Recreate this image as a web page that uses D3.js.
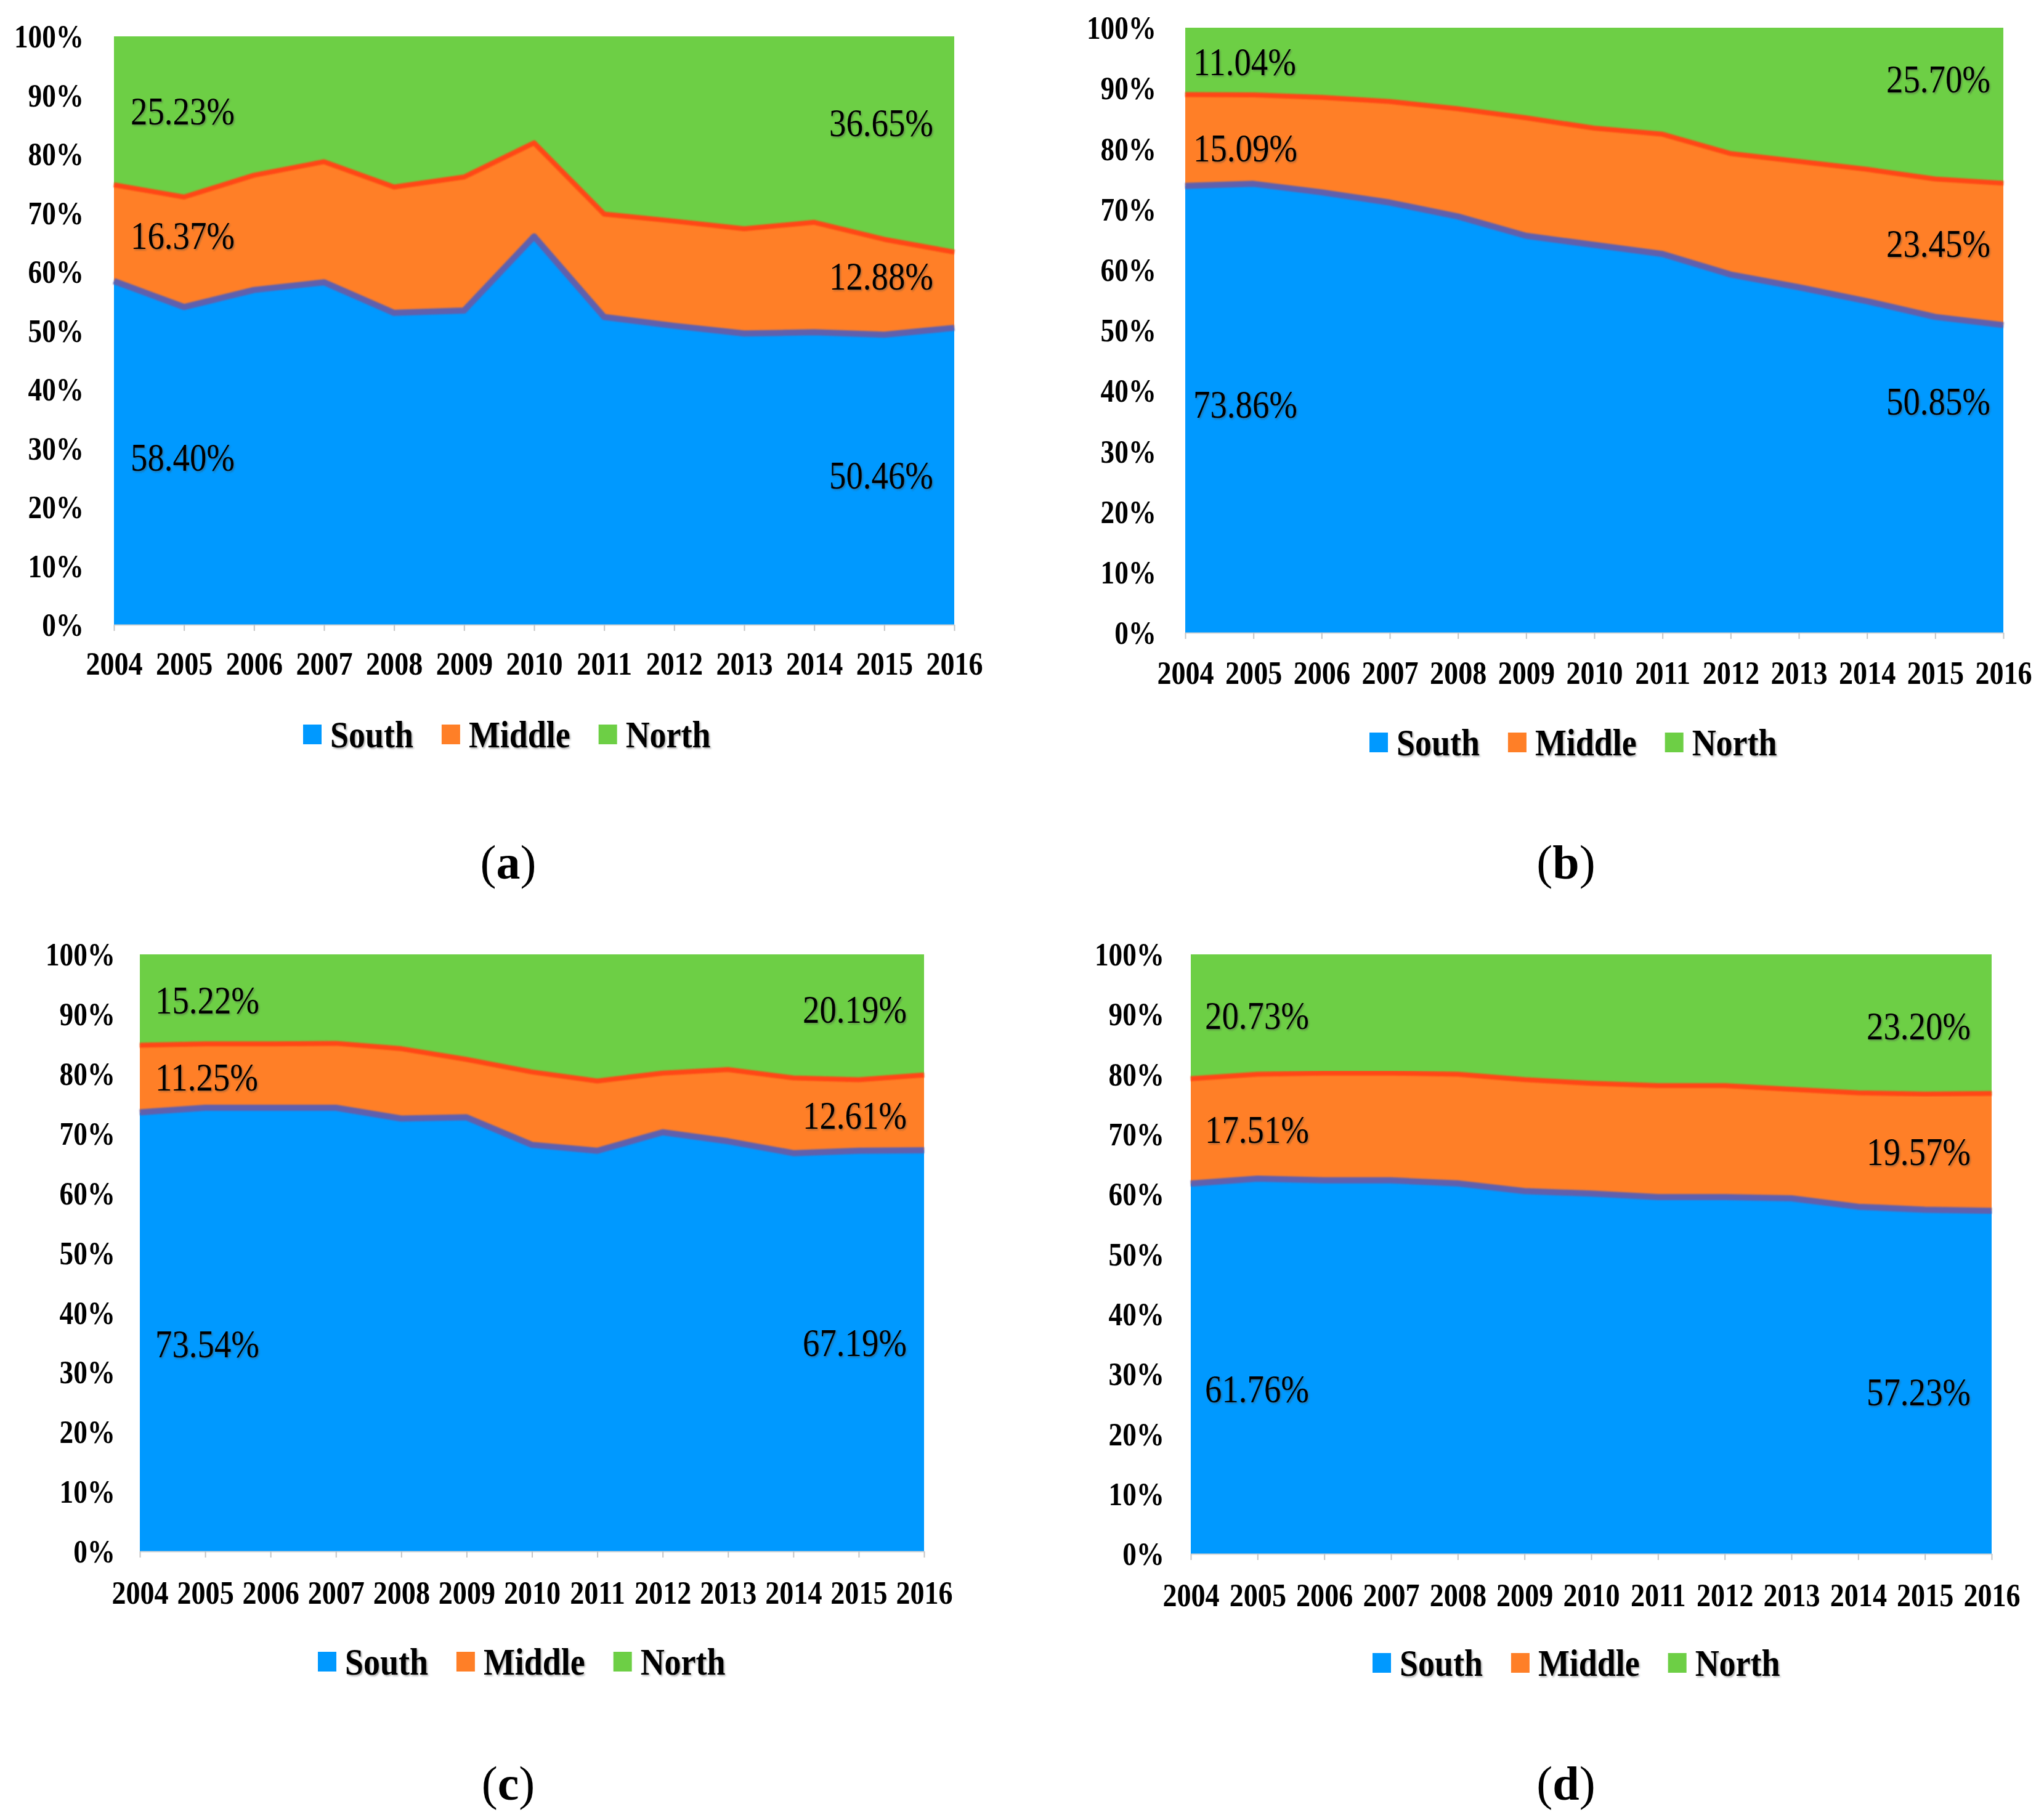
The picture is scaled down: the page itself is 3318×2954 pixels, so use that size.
<!DOCTYPE html>
<html>
<head>
<meta charset="utf-8">
<script src="https://cdn.jsdelivr.net/npm/d3@7"></script>
<style>
body{margin:0;background:#fff;}
svg{display:block;}
</style>
</head>
<body>
<svg id="mysvg" width="3318" height="2954"></svg>
<script>
var years = [2004, 2005, 2006, 2007, 2008, 2009, 2010, 2011, 2012, 2013, 2014, 2015, 2016];
var yTicks = [0, 10, 20, 30, 40, 50, 60, 70, 80, 90, 100];
var seriesNames = ["South", "Middle", "North"];

// (a)
var southA  = [58.40, 54.0, 56.9, 58.2, 53.0, 53.4, 66.0, 52.3, 50.8, 49.5, 49.7, 49.3, 50.46];
var middleA = [16.37, 18.7, 19.5, 20.5, 21.4, 22.7, 15.9, 17.5, 17.8, 17.8, 18.7, 16.2, 12.88];
var northA  = [25.23, 27.3, 23.6, 21.3, 25.6, 23.9, 18.1, 30.2, 31.4, 32.7, 31.6, 34.5, 36.65];
// (b)
var southB  = [73.86, 74.2, 72.8, 71.1, 68.8, 65.6, 64.1, 62.6, 59.2, 57.1, 54.8, 52.2, 50.85];
var middleB = [15.09, 14.7, 15.7, 16.7, 17.8, 19.5, 19.3, 19.8, 20.0, 20.8, 21.8, 22.8, 23.45];
var northB  = [11.04, 11.1, 11.5, 12.2, 13.4, 14.9, 16.6, 17.6, 20.8, 22.1, 23.4, 25.0, 25.70];
// (c)
var southC  = [73.54, 74.3, 74.3, 74.3, 72.5, 72.7, 68.1, 67.1, 70.2, 68.7, 66.7, 67.1, 67.19];
var middleC = [11.25, 10.7, 10.7, 10.8, 11.7, 9.7, 12.2, 11.7, 9.9, 12.0, 12.6, 11.9, 12.61];
var northC  = [15.22, 15.0, 15.0, 14.9, 15.8, 17.6, 19.7, 21.2, 19.9, 19.3, 20.7, 21.0, 20.19];
// (d)
var southD  = [61.76, 62.6, 62.3, 62.3, 61.8, 60.5, 60.1, 59.5, 59.5, 59.3, 57.9, 57.4, 57.23];
var middleD = [17.51, 17.4, 17.9, 17.9, 18.2, 18.6, 18.4, 18.6, 18.6, 18.2, 19.0, 19.3, 19.57];
var northD  = [20.73, 20.0, 19.8, 19.8, 20.0, 20.9, 21.5, 21.9, 21.9, 22.5, 23.1, 23.3, 23.20];

var colors = {South: "#0099ff", Middle: "#ff7f27", North: "#6dcf45"};
var edges = {South: "#5f60ae", Middle: "#ff4712"};
var serif = "'Liberation Serif','Times New Roman',serif";
var squeeze = "scale(0.87,1)";

// layout of the four panels (pixels) and where the end labels sit (in % of the y axis)
var panels = [
  {tag: "a", south: southA, middle: middleA, north: northA,
   left: 185, right: 1549, top: 59, bottom: 1014, yLabelX: 136, xLabelY: 81,
   legendX: 492, legendY: 1213, capX: 825, capY: 1426, padL: 27, padR: 34,
   posL: {North: 87.3, Middle: 66.2, South: 28.5}, posR: {North: 85.3, Middle: 59.3, South: 25.5}},
  {tag: "b", south: southB, middle: middleB, north: northB,
   left: 1924, right: 3252, top: 45, bottom: 1027, yLabelX: 1877, xLabelY: 83,
   legendX: 2223, legendY: 1226, capX: 2542, capY: 1426, padL: 13, padR: 21,
   posL: {North: 94.4, Middle: 80.1, South: 37.8}, posR: {North: 91.6, Middle: 64.4, South: 38.3}},
  {tag: "c", south: southC, middle: middleC, north: northC,
   left: 227, right: 1500, top: 1549, bottom: 2518, yLabelX: 187, xLabelY: 85,
   legendX: 516, legendY: 2718, capX: 825, capY: 2921, padL: 25, padR: 28,
   posL: {North: 92.4, Middle: 79.5, South: 34.8}, posR: {North: 90.8, Middle: 73.1, South: 35.0}},
  {tag: "d", south: southD, middle: middleD, north: northD,
   left: 1933, right: 3233, top: 1549, bottom: 2522, yLabelX: 1890, xLabelY: 85,
   legendX: 2228, legendY: 2720, capX: 2542, capY: 2921, padL: 23, padR: 34,
   posL: {North: 89.8, Middle: 70.8, South: 27.6}, posR: {North: 88.1, Middle: 67.1, South: 27.0}}
];

var svg = d3.select("#mysvg");
svg.append("rect").attr("width", 3318).attr("height", 2954).attr("fill", "#fff");

var defs = svg.append("defs");
defs.append("filter").attr("id", "shadow").attr("x", "-10%").attr("y", "-10%").attr("width", "130%").attr("height", "130%")
  .append("feDropShadow").attr("dx", 2).attr("dy", 2).attr("stdDeviation", 1.5)
  .attr("flood-color", "#444").attr("flood-opacity", 0.45);
defs.append("filter").attr("id", "soft")
  .append("feGaussianBlur").attr("stdDeviation", 1.2);

function drawPanel(p) {
  var rows = years.map(function(yr, i) {
    return {year: yr, South: p.south[i], Middle: p.middle[i], North: p.north[i]};
  });

  var x = d3.scalePoint().domain(years).range([p.left, p.right]);
  var y = d3.scaleLinear().domain([0, 100]).range([p.bottom, p.top]);

  var layers = d3.stack().keys(seriesNames)(rows);

  var g = svg.append("g").attr("class", "panel-" + p.tag);

  var area = d3.area()
    .x(function(d) { return x(d.data.year); })
    .y0(function(d) { return y(d[0]); })
    .y1(function(d) { return y(d[1]); });

  g.selectAll(".layer")
    .data(layers)
    .enter().append("path")
      .attr("class", "layer")
      .attr("fill", function(d) { return colors[d.key]; })
      .attr("d", area);

  var line = d3.line()
    .x(function(d) { return x(d.data.year); })
    .y(function(d) { return y(d[1]); });

  g.selectAll(".edge")
    .data(layers.slice(0, 2))
    .enter().append("path")
      .attr("class", "edge")
      .attr("fill", "none")
      .attr("stroke", function(d) { return edges[d.key]; })
      .attr("stroke-width", function(d) { return d.key == "South" ? 10 : 8; })
      .attr("stroke-linejoin", "round")
      .attr("filter", "url(#soft)")
      .attr("d", line);

  // y axis labels
  var ya = g.append("g")
    .attr("transform", "translate(" + p.yLabelX + ",0)")
    .call(d3.axisLeft(y).tickValues(yTicks).tickSize(0).tickPadding(0)
      .tickFormat(function(d) { return d + "%"; }));
  ya.select(".domain").remove();
  ya.selectAll("text")
    .attr("x", 0)
    .attr("dy", "0.34em")
    .attr("transform", squeeze)
    .style("font-family", serif)
    .style("font-size", "52px")
    .style("font-weight", "bold")
    .style("fill", "#000");

  // x axis
  var xa = g.append("g")
    .attr("transform", "translate(0," + p.bottom + ")")
    .call(d3.axisBottom(x).tickSize(10).tickSizeOuter(0).tickFormat(d3.format("d")));
  xa.select(".domain").attr("stroke", "#d4d4d4").attr("stroke-width", 2);
  xa.selectAll(".tick line").attr("stroke", "#c4c4c4").attr("stroke-width", 2);
  xa.selectAll("text")
    .attr("y", p.xLabelY)
    .attr("dy", 0)
    .attr("transform", squeeze)
    .style("font-family", serif)
    .style("font-size", "53px")
    .style("font-weight", "bold")
    .style("fill", "#000");

  // first and last year values written on the areas
  var last = years.length - 1;
  seriesNames.forEach(function(k) {
    var arr = k == "South" ? p.south : (k == "Middle" ? p.middle : p.north);
    g.append("text")
      .attr("transform", "translate(" + (p.left + p.padL) + "," + y(p.posL[k]) + ") " + squeeze)
      .attr("dy", "0.35em")
      .attr("text-anchor", "start")
      .attr("filter", "url(#shadow)")
      .style("font-family", serif)
      .style("font-size", "63px")
      .style("fill", "#000")
      .text(arr[0].toFixed(2) + "%");
    g.append("text")
      .attr("transform", "translate(" + (p.right - p.padR) + "," + y(p.posR[k]) + ") " + squeeze)
      .attr("dy", "0.35em")
      .attr("text-anchor", "end")
      .attr("filter", "url(#shadow)")
      .style("font-family", serif)
      .style("font-size", "63px")
      .style("fill", "#000")
      .text(arr[last].toFixed(2) + "%");
  });

  // legend
  var lx = p.legendX;
  seriesNames.forEach(function(k) {
    g.append("rect")
      .attr("x", lx)
      .attr("y", p.legendY - 37)
      .attr("width", 30)
      .attr("height", 32)
      .attr("fill", colors[k]);
    var t = g.append("text")
      .attr("transform", "translate(" + (lx + 44) + "," + p.legendY + ") " + squeeze)
      .attr("filter", "url(#shadow)")
      .style("font-family", serif)
      .style("font-size", "62px")
      .style("font-weight", "bold")
      .style("fill", "#000")
      .text(k);
    lx = lx + 44 + t.node().getComputedTextLength() * 0.87 + 46;
  });

  // caption
  var cap = g.append("text")
    .attr("x", p.capX)
    .attr("y", p.capY)
    .attr("text-anchor", "middle")
    .style("font-family", serif)
    .style("font-size", "78px")
    .style("fill", "#000");
  cap.append("tspan").text("(");
  cap.append("tspan").style("font-weight", "bold").text(p.tag);
  cap.append("tspan").text(")");
}

panels.forEach(drawPanel);
</script>
</body>
</html>
